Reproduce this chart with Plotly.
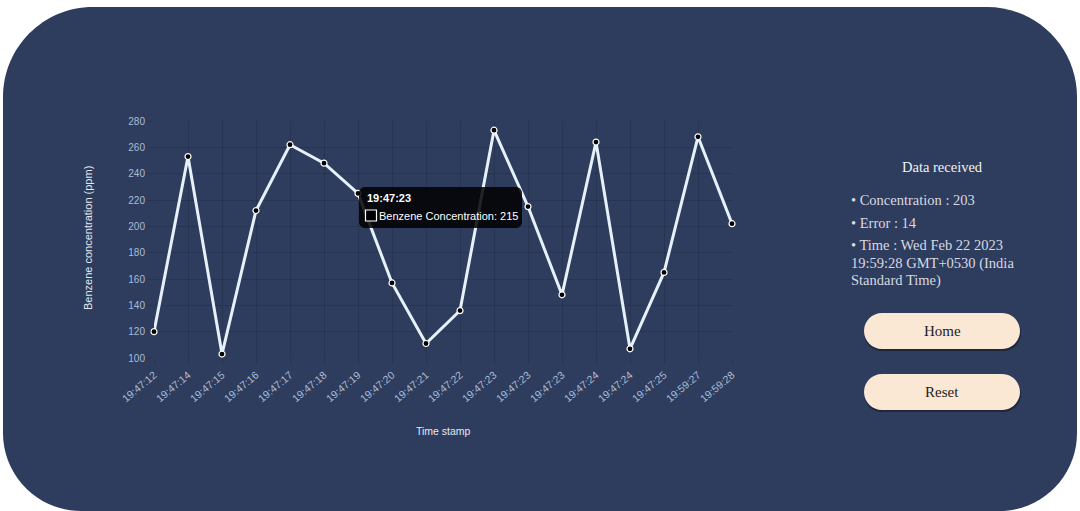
import plotly.graph_objects as go

# ---------------- data ----------------
time_labels = ["19:47:12", "19:47:14", "19:47:15", "19:47:16", "19:47:17", "19:47:18",
               "19:47:19", "19:47:20", "19:47:21", "19:47:22", "19:47:23", "19:47:23",
               "19:47:23", "19:47:24", "19:47:24", "19:47:25", "19:59:27", "19:59:28"]
concentration = [120, 253, 103, 212, 262, 248, 225, 157, 111, 136, 273, 215,
                 148, 264, 107, 165, 268, 202]
y_ticks = [100, 120, 140, 160, 180, 200, 220, 240, 260, 280]
hover_index = 11
panel_title = "Data received"
panel_lines = ["• Concentration : 203", "• Error : 14", "• Time : Wed Feb 22 2023",
               "19:59:28 GMT+0530 (India", "Standard Time)"]
buttons = ["Home", "Reset"]

# ---------------- geometry helpers (pixel -> paper) ----------------
FW, FH = 1080, 511
ML, MR, MT, MB = 154, 348, 121, 153
PW, PH = FW - ML - MR, FH - MT - MB


def px(x):
    return (x - ML) / PW


def py(y):
    return (FH - MB - y) / PH


def rrect(x0, y0, x1, y1, rt, rb=None):
    if rb is None:
        rb = rt
    k = 0.5523

    def P(x, y):
        return f"{px(x):.5f},{py(y):.5f}"
    d = f"M {P(x0 + rt, y0)} L {P(x1 - rt, y0)} "
    d += f"C {P(x1 - rt + k*rt, y0)} {P(x1, y0 + rt - k*rt)} {P(x1, y0 + rt)} "
    d += f"L {P(x1, y1 - rb)} "
    d += f"C {P(x1, y1 - rb + k*rb)} {P(x1 - rb + k*rb, y1)} {P(x1 - rb, y1)} "
    d += f"L {P(x0 + rb, y1)} "
    d += f"C {P(x0 + rb - k*rb, y1)} {P(x0, y1 - rb + k*rb)} {P(x0, y1 - rb)} "
    d += f"L {P(x0, y0 + rt)} "
    d += f"C {P(x0, y0 + rt - k*rt)} {P(x0 + rt - k*rt, y0)} {P(x0 + rt, y0)} Z"
    return d


BG = "#2e3c5d"
TICK_COLOR = "#a9bcd8"
GRID = "rgba(0,0,0,0.11)"

x_idx = list(range(len(time_labels)))

fig = go.Figure()
fig.add_trace(go.Scatter(
    x=x_idx, y=concentration, mode="lines+markers",
    line=dict(color="#e6f1fb", width=3),
    marker=dict(size=6, color="#000000", line=dict(color="#ffffff", width=1.2)),
    cliponaxis=False, showlegend=False, hoverinfo="skip",
))

shapes = [
    dict(type="path", path=rrect(3, 7, 1077, 511, 90, 78), xref="paper", yref="paper",
         fillcolor=BG, line=dict(width=0), layer="below"),
]
# buttons
for i, b in enumerate(buttons):
    y0 = 313 + i * 61
    shapes.append(dict(type="path", path=rrect(864, y0 + 2, 1021, y0 + 38, 18), xref="paper",
                       yref="paper", fillcolor="rgba(0,0,0,0.35)", line=dict(width=0), layer="above"))
    shapes.append(dict(type="path", path=rrect(864, y0, 1020, y0 + 36, 18), xref="paper",
                       yref="paper", fillcolor="#fbe8d4", line=dict(width=0), layer="above"))
# tooltip
shapes.append(dict(type="path", path=rrect(359, 187, 522, 228, 6), xref="paper", yref="paper",
                   fillcolor="rgba(0,0,0,0.85)", line=dict(width=0), layer="above"))
shapes.append(dict(type="rect", x0=px(365.5), x1=px(376.5), y0=py(221), y1=py(210),
                   xref="paper", yref="paper", fillcolor="#000000",
                   line=dict(color="#ffffff", width=1.2), layer="above"))


def A(x, y, text, xa="center", **kw):
    d = dict(x=px(x), y=py(y), xref="paper", yref="paper", text=text, showarrow=False,
             xanchor=xa, yanchor="middle")
    d.update(kw)
    return d


ann = []
ann.append(A(88, 238, "Benzene concentration (ppm)", textangle=-90,
             font=dict(family="Liberation Sans", size=11, color="#e4e8f0")))
ann.append(A(443, 431, "Time stamp",
             font=dict(family="Liberation Sans", size=10.5, color="#e4e8f0")))
ann.append(A(365, 198, f"<b>{time_labels[hover_index]}</b>", xa="left",
             font=dict(family="Liberation Sans", size=11, color="#ffffff")))
ann.append(A(377, 215.5, f"Benzene Concentration: {concentration[hover_index]}", xa="left",
             font=dict(family="Liberation Sans", size=11, color="#ffffff")))
ann.append(A(942, 167, panel_title,
             font=dict(family="Liberation Serif", size=14.5, color="#f2f2f2")))
line_y = [200, 223, 245, 263, 280]
for t, yy in zip(panel_lines, line_y):
    ann.append(A(849, yy, t, xa="left",
                 font=dict(family="Liberation Serif", size=14.5, color="#d6dae3")))
for i, b in enumerate(buttons):
    ann.append(A(942, 331 + i * 61, b,
                 font=dict(family="Liberation Serif", size=15, color="#222222")))

fig.update_layout(
    width=FW, height=FH, margin=dict(l=ML, r=MR, t=MT, b=MB),
    paper_bgcolor="#ffffff", plot_bgcolor="rgba(0,0,0,0)",
    shapes=shapes, annotations=ann,
    xaxis=dict(range=[0, len(time_labels) - 1], tickvals=x_idx, ticktext=time_labels,
               tickangle=-40, showgrid=True, gridcolor=GRID, zeroline=False, showline=False,
               ticks="outside", ticklen=6, tickcolor=GRID,
               tickfont=dict(family="Liberation Sans", size=10.5, color=TICK_COLOR)),
    yaxis=dict(range=[100, 280], tickvals=y_ticks, showgrid=True, gridcolor=GRID,
               zeroline=False, showline=False, ticks="outside", ticklen=6, tickcolor=GRID,
               tickfont=dict(family="Liberation Sans", size=10, color=TICK_COLOR)),
)

fig.write_html("out.html", config={"displayModeBar": False},
               post_script="document.body.style.margin='0';")
